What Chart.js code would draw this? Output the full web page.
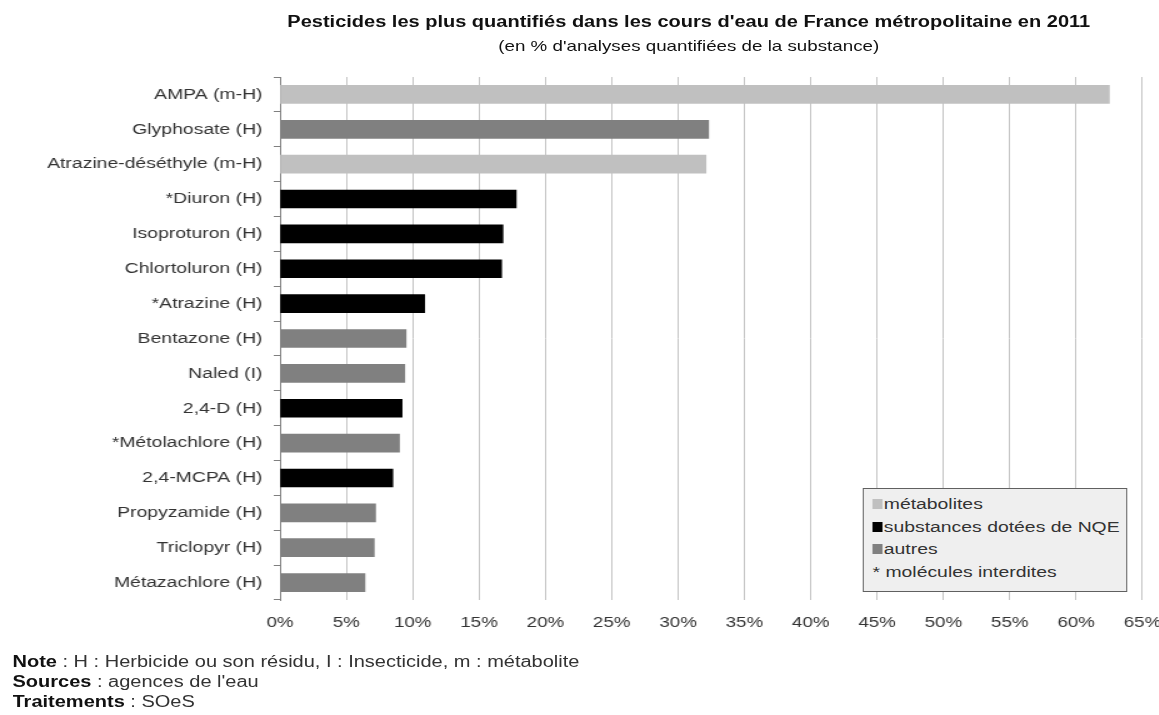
<!DOCTYPE html>
<html lang="fr">
<head>
<meta charset="UTF-8">
<title>Pesticides les plus quantifiés - 2011</title>
<script src="https://cdn.jsdelivr.net/npm/chart.js"></script>
<style>
body {
    margin: 0;
    background: #fff;
    font-family: 'Liberation Sans', Arial, sans-serif;
    color: #333;
    overflow: hidden;
}
/* the reference picture is stretched horizontally, so the whole page is too */
#page {
    position: absolute;
    left: 0;
    top: 0;
    width: 943px;
    height: 715px;
    transform: scaleX(1.25);
    transform-origin: 0 0;
}
#chartBox {
    position: absolute;
    left: 0;
    top: 0;
    width: 943px;
    height: 715px;
}
.title {
    position: absolute;
    left: 551px;
    transform: translateX(-50%);
    white-space: nowrap;
    color: #111;
}
.notes {
    position: absolute;
    left: 10px;
    top: 652px;
    font-size: 16px;
    line-height: 20px;
    color: #333;
}
.notes b { color: #111; }
.legend {
    position: absolute;
    left: 690px;
    top: 488px;
    width: 212px;
    height: 104px;
    background: #efefef;
    border: 1px solid #606060;
    box-sizing: border-box;
    padding: 4px 0 0 7px;
    font-size: 15.5px;
    line-height: 22.5px;
    color: #333;
}
.legend span.sw {
    display: inline-block;
    width: 8px;
    height: 10px;
    margin-right: 1px;
}
</style>
</head>
<body>
<div id="page">
    <div id="chartBox"><canvas id="chart"></canvas></div>
    <div class="title" style="top:13px;font-size:16px;font-weight:bold;">Pesticides les plus quantifiés dans les cours d'eau de France métropolitaine en 2011</div>
    <div class="title" style="top:37px;font-size:15px;">(en % d'analyses quantifiées de la substance)</div>
    <div class="legend">
        <div><span class="sw" style="background:#c0c0c0"></span>métabolites</div>
        <div><span class="sw" style="background:#000"></span>substances dotées de NQE</div>
        <div><span class="sw" style="background:#808080"></span>autres</div>
        <div>* molécules interdites</div>
    </div>
    <div class="notes">
        <div><b>Note</b> : H : Herbicide ou son résidu, I : Insecticide, m : métabolite</div>
        <div><b>Sources</b> : agences de l'eau</div>
        <div><b>Traitements</b> : SOeS</div>
    </div>
</div>
<script>
const substances = ['AMPA (m-H)', 'Glyphosate (H)', 'Atrazine-déséthyle (m-H)', '*Diuron (H)', 'Isoproturon (H)',
    'Chlortoluron (H)', '*Atrazine (H)', 'Bentazone (H)', 'Naled (I)', '2,4-D (H)', '*Métolachlore (H)',
    '2,4-MCPA (H)', 'Propyzamide (H)', 'Triclopyr (H)', 'Métazachlore (H)'];
const pctQuantified = [62.5, 32.3, 32.1, 17.8, 16.8, 16.7, 10.9, 9.5, 9.4, 9.2, 9.0, 8.5, 7.2, 7.1, 6.4];
const groups = ['metabolite', 'autre', 'metabolite', 'nqe', 'nqe', 'nqe', 'nqe', 'autre', 'autre', 'nqe',
    'autre', 'nqe', 'autre', 'autre', 'autre'];
const xTicks = [0, 5, 10, 15, 20, 25, 30, 35, 40, 45, 50, 55, 60, 65];

const groupColors = { metabolite: '#c0c0c0', nqe: '#000000', autre: '#808080' };

const ctx = document.getElementById('chart').getContext('2d');
new Chart(ctx, {
    type: 'bar',
    data: {
        labels: substances,
        datasets: [{
            data: pctQuantified,
            backgroundColor: groups.map(g => groupColors[g]),
            barThickness: 18
        }]
    },
    options: {
        indexAxis: 'y',
        responsive: true,
        maintainAspectRatio: false,
        animation: false,
        events: [],
        layout: { padding: { top: 77, bottom: 75, left: 0, right: 14 } },
        plugins: {
            legend: { display: false },
            tooltip: { enabled: false }
        },
        scales: {
            x: {
                min: 0,
                max: 65,
                afterBuildTicks: s => { s.ticks = xTicks.map(v => ({ value: v })); },
                afterFit: s => { s.height = 40; },
                grid: { color: '#c4c4c4', drawTicks: false },
                border: { display: false },
                ticks: {
                    padding: 14,
                    color: '#333',
                    font: { family: 'Liberation Sans', size: 15 },
                    callback: v => v + '%'
                }
            },
            y: {
                afterFit: s => { s.width = 224; },
                grid: { drawOnChartArea: false, drawTicks: true, tickLength: 5, color: '#808080' },
                border: { color: '#808080' },
                ticks: {
                    padding: 9,
                    color: '#333',
                    font: { family: 'Liberation Sans', size: 15.5 }
                }
            }
        }
    }
});
</script>
</body>
</html>
